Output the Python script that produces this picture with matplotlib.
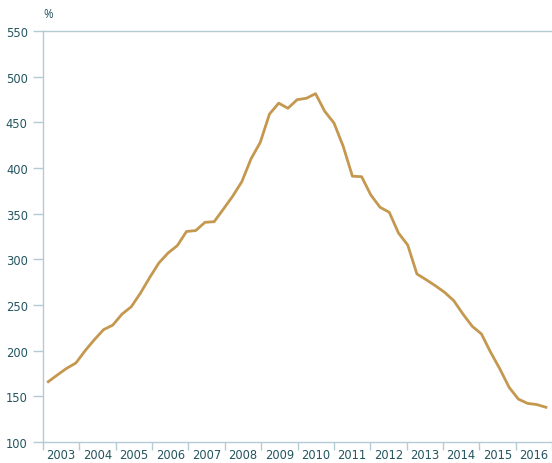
import numpy as np
import matplotlib
matplotlib.use("Agg")
import matplotlib.pyplot as plt

# Quarterly values 2003Q1 .. 2016Q3 (%)
values = [166, 173.5, 180.7, 186.5, 200, 212, 223, 228, 240, 248,
          263, 280, 296, 307, 315, 330.5, 331.5, 340.5, 341.2, 355,
          369, 385, 410, 428, 459, 471, 465.4, 474.8, 476.3, 481.4,
          462, 449.3, 423.8, 391, 390.5, 370.4, 357, 351.5, 328.8, 315.7,
          284, 277.7, 271.1, 263.9, 254.7, 240, 226.7, 218.3, 198.2, 180,
          159.9, 147, 142.3, 141, 138]
years = ["2003", "2004", "2005", "2006", "2007", "2008", "2009",
         "2010", "2011", "2012", "2013", "2014", "2015", "2016"]
yticks = [100, 150, 200, 250, 300, 350, 400, 450, 500, 550]

W, H = 552, 464
fig = plt.figure(figsize=(W / 100, H / 100), dpi=100)
ax = fig.add_axes([43 / W, 21 / H, (W - 43) / W, (443 - 32) / H])

axis_col = "#b3cbd2"
text_col = "#24555f"
line_col = "#c4984f"

plt.rcParams['font.family'] = ['Open Sans', 'DejaVu Sans']

x = np.arange(len(values))
ax.plot(x, values, color=line_col, lw=2.0, solid_joinstyle="round",
        clip_on=False, zorder=3)

# calibration: index 0 at px 48.3, spacing 9.278 px per point, year = 36.6 px
px_per = 9.278
x0 = -(48.3 - 43) / px_per
x1 = x0 + (W - 43) / px_per
ax.set_xlim(x0, x1)
ax.set_ylim(100, 550)

year_w = 36.6 / px_per
edges = [x0 + k * year_w for k in range(len(years) + 1)]
ax.set_xticks(edges[:len(years) + 1])
ax.set_xticklabels([])
ax.set_xticks([e + year_w / 2 for e in edges[:len(years)]], minor=True)
ax.set_xticklabels(years, minor=True)
ax.tick_params(axis="x", which="major", length=6, width=1, color=axis_col)
ax.tick_params(axis="x", which="minor", length=0, pad=4,
               labelsize=8.3, labelcolor=text_col)

ax.set_yticks(yticks)
ax.set_yticklabels([str(v) for v in yticks])
ax.tick_params(axis="y", length=7, width=1, color=axis_col, pad=4,
               labelsize=8.3, labelcolor=text_col)

for s in ["right"]:
    ax.spines[s].set_visible(False)
for s in ["left", "bottom", "top"]:
    ax.spines[s].set_color(axis_col)
    ax.spines[s].set_linewidth(1)

fig.text(43 / W + 0.001, 1 - 15 / H, "%", fontsize=8.3, color=text_col,
         ha="left", va="center")

fig.savefig("out.png", dpi=100)
